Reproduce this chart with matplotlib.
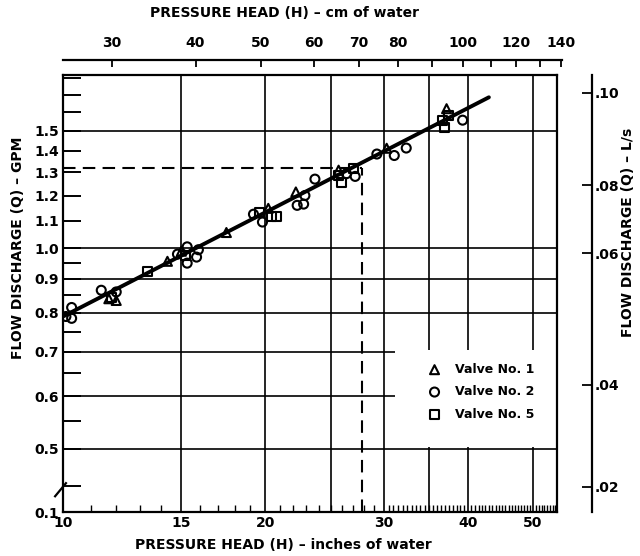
import numpy as np
import matplotlib
matplotlib.use('Agg')
import matplotlib.pyplot as plt
from matplotlib.ticker import FixedLocator, NullFormatter
from matplotlib.patches import Rectangle

# values (H in inches of water, Q in GPM)
valve1_h = [11.7, 12.0, 14.3, 15.0, 17.5, 20.2, 22.2, 25.7, 30.3, 37.2]
valve1_q = [0.84, 0.835, 0.956, 0.99, 1.056, 1.148, 1.215, 1.31, 1.413, 1.62]

valve2_h = [10.1, 10.3, 10.3, 11.4, 12.0, 14.8, 15.3, 15.3, 15.8, 15.9, 19.2, 19.8,
            22.3, 22.8, 22.9, 23.7, 26.4, 27.2, 29.3, 31.1, 32.4, 39.3]
valve2_q = [0.79, 0.815, 0.785, 0.865, 0.86, 0.98, 1.005, 0.95, 0.97, 0.995, 1.125, 1.095,
            1.16, 1.165, 1.20, 1.27, 1.294, 1.282, 1.385, 1.378, 1.414, 1.557]

valve5_h = [11.8, 13.35, 15.2, 19.6, 20.4, 20.8, 25.7, 25.95, 27.0, 36.7, 36.9, 37.4]
valve5_q = [0.845, 0.924, 0.975, 1.13, 1.115, 1.115, 1.286, 1.257, 1.317, 1.555, 1.52, 1.58]

# fitted line ends
fit_h = [10.0, 43.0]
fit_q = [0.79, 1.685]

# dashed reading lines
read_h = 27.8
read_q = 1.32

# axes
h_lim = (10, 54.3)
q_lim = (0.402, 1.82)
grid_h = [15, 20, 25, 30, 35, 40, 50]
grid_q = [0.5, 0.6, 0.7, 0.8, 0.9, 1.0, 1.5]
h_ticks = [10, 15, 20, 30, 40, 50]
h_minor = list(range(11, 30)) + list(np.arange(30, 54.5, 0.5))
q_ticks = [0.402, 0.5, 0.6, 0.7, 0.8, 0.9, 1.0, 1.1, 1.2, 1.3, 1.4, 1.5]
q_labels = ['0.1', '0.5', '0.6', '0.7', '0.8', '0.9', '1.0', '1.1', '1.2', '1.3', '1.4', '1.5']
q_minor = [0.44, 0.55, 0.65, 0.75, 0.85, 0.95, 1.6, 1.7, 1.8]
cm_ticks = [30, 40, 50, 60, 70, 80, 100, 120, 140]
cm_minor = [90, 110, 130]
# the printed L/s scale is hand spaced, so its ticks sit where they are on the GPM scale
ls_labels = ['.10', '.08', '.06', '.04', '.02']
ls_pos_gpm = [1.712, 1.243, 0.983, 0.624, 0.439]

W, H = 640, 556
fig = plt.figure(figsize=(W / 100, H / 100), dpi=100)
ax = fig.add_axes([63 / W, 44 / H, 494 / W, 437 / H])
ax.set_xscale('log')
ax.set_yscale('log')
ax.set_xlim(*h_lim)
ax.set_ylim(*q_lim)

for v in grid_h:
    ax.axvline(v, color='k', lw=1.2, zorder=1)
for v in grid_q:
    ax.axhline(v, color='k', lw=1.2, zorder=1)

# white area behind the legend
ax.add_patch(Rectangle((0.672, 0.149), 0.328, 0.222, transform=ax.transAxes,
                       facecolor='white', edgecolor='none', zorder=1.5))

ax.plot([h_lim[0], read_h], [read_q, read_q], color='k', lw=1.5, dashes=(6, 3.5), zorder=2)
ax.plot([read_h, read_h], [q_lim[0], read_q], color='k', lw=1.5, dashes=(6, 3.5), zorder=2)

ax.plot(fit_h, fit_q, color='k', lw=2.8, solid_capstyle='round', zorder=3)

mk = dict(facecolor='none', edgecolor='k', linewidths=1.5, s=42, zorder=4)
ax.scatter(valve1_h, valve1_q, marker='^', label='Valve No. 1', **mk)
ax.scatter(valve2_h, valve2_q, marker='o', label='Valve No. 2', **mk)
ax.scatter(valve5_h, valve5_q, marker='s', label='Valve No. 5', **mk)

ax.xaxis.set_major_locator(FixedLocator(h_ticks))
ax.set_xticklabels([str(t) for t in h_ticks])
ax.xaxis.set_minor_locator(FixedLocator(h_minor))
ax.xaxis.set_minor_formatter(NullFormatter())
ax.yaxis.set_major_locator(FixedLocator(q_ticks))
ax.set_yticklabels(q_labels)
ax.yaxis.set_minor_locator(FixedLocator(q_minor))
ax.yaxis.set_minor_formatter(NullFormatter())

ax.tick_params(axis='x', which='major', direction='in', length=0, pad=3,
               labelsize=10)
ax.tick_params(axis='x', which='minor', direction='in', length=5, width=1.0)
ax.tick_params(axis='y', which='both', direction='in', length=13, width=1.4, pad=3,
               labelsize=10)
ax.tick_params(right=False, top=False, which='both')
for lab in ax.get_xticklabels() + ax.get_yticklabels():
    lab.set_fontweight('bold')
for s in ax.spines.values():
    s.set_linewidth(1.6)

# axis break on the left
ax.plot([-0.016, 0.006], [0.036, 0.066], color='k', lw=1.6,
        transform=ax.transAxes, clip_on=False, zorder=5)

leg = ax.legend(loc='center', bbox_to_anchor=(0.84, 0.275), frameon=False,
                handletextpad=0.6, labelspacing=0.75, prop=dict(size=9, weight='bold'))

# top scale in cm of water
ax_top = fig.add_axes([63 / W, (H - 70) / H, (562 - 63) / W, 10 / H])
ax_top.patch.set_visible(False)
ax_top.set_xscale('log')
ax_top.set_xlim(25.4, 25.4 * 10 ** ((562 - 63) / 672))
ax_top.set_yticks([])
for k in ['left', 'right', 'bottom']:
    ax_top.spines[k].set_visible(False)
ax_top.spines['top'].set_linewidth(1.6)
ax_top.xaxis.tick_top()
ax_top.xaxis.set_major_locator(FixedLocator(cm_ticks))
ax_top.set_xticklabels([str(t) for t in cm_ticks])
ax_top.xaxis.set_minor_locator(FixedLocator(cm_minor))
ax_top.xaxis.set_minor_formatter(NullFormatter())
ax_top.tick_params(axis='x', which='both', direction='in', length=5, width=1.3,
                   pad=7, labelsize=10)
for lab in ax_top.get_xticklabels():
    lab.set_fontweight('bold')

# right scale in L/s
ax_r = ax.twinx()
ax_r.set_yscale('log')
ax_r.set_ylim(*q_lim)
for k in ['left', 'top', 'bottom']:
    ax_r.spines[k].set_visible(False)
ax_r.spines['right'].set_position(('outward', 25))
ax_r.spines['right'].set_linewidth(1.6)
ax_r.yaxis.set_major_locator(FixedLocator(ls_pos_gpm))
ax_r.set_yticklabels(ls_labels)
ax_r.yaxis.set_minor_locator(FixedLocator([]))
ax_r.tick_params(axis='y', direction='in', length=7, width=1.3, pad=2, labelsize=10)
for lab in ax_r.get_yticklabels():
    lab.set_fontweight('bold')

txt = dict(fontsize=10, fontweight='bold', ha='center', va='center')
fig.text(283 / W, (H - 545) / H, 'PRESSURE HEAD (H) \u2013 inches of water', **txt)
fig.text(285 / W, (H - 13) / H, 'PRESSURE HEAD (H) \u2013 cm of water', **txt)
fig.text(18 / W, (H - 248) / H, 'FLOW DISCHARGE (Q) \u2013 GPM', rotation=90, **txt)
fig.text(628 / W, (H - 232) / H, 'FLOW DISCHARGE (Q) \u2013 L/s', rotation=90, **txt)

fig.savefig('out.png', dpi=100)
